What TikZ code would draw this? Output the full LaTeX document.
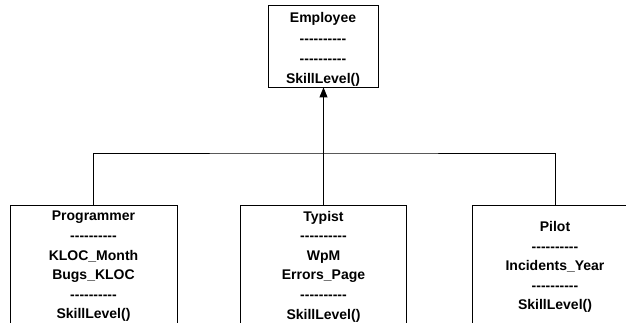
\documentclass[tikz,border=0pt]{standalone}
\usepackage{fontspec}
\newfontfamily\umlfont{Liberation Sans}
\usetikzlibrary{arrows.meta}
% a row of ten hyphens, kept apart so they never merge into dashes
\newcommand\sepline{-\kern0pt-\kern0pt-\kern0pt-\kern0pt-\kern0pt-\kern0pt-\kern0pt-\kern0pt-\kern0pt-}
\tikzset{
  classbox/.style={draw, line width=0.9pt, rectangle, inner sep=0pt},
  classtext/.style={align=center, inner sep=0pt,
    font=\umlfont\bfseries\fontsize{14}{19.6}\selectfont},
  link/.style={line width=0.9pt},
}
\begin{document}
\begin{tikzpicture}[x=1pt,y=-1pt]
  \useasboundingbox (0,0) rectangle (626,323);
  \clip (0,0) rectangle (626,323);
  % class boxes
  \node[classbox, minimum width=110pt, minimum height=82pt] (emp) at (323,46) {};
  \node[classbox, minimum width=167pt, minimum height=119pt] (prog) at (93.5,264.5) {};
  \node[classbox, minimum width=166pt, minimum height=119pt] (typ) at (323.5,264.5) {};
  \node[classbox, minimum width=166pt, minimum height=119pt] (pil) at (555,264.5) {};
  % class contents
  \node[classtext, font=\umlfont\bfseries\fontsize{14}{20.2}\selectfont] (empt) at (323,49.5)
    {Employee\\ \sepline\\ \sepline\\ SkillLevel()};
  \node[classtext] (progt) at (93.5,266.5)
    {Programmer\\ \sepline\\ KLOC\_Month\\ Bugs\_KLOC\\ \sepline\\ SkillLevel()};
  \node[classtext] (typt) at (323.5,266.5)
    {Typist\\ \sepline\\ WpM\\ Errors\_Page\\ \sepline\\ SkillLevel()};
  \node[classtext] (pilt) at (555,267)
    {Pilot\\ \sepline\\ Incidents\_Year\\ \sepline\\ SkillLevel()};
  % generalisation
  \coordinate (j) at (323.5,153);
  \draw[link] (prog.north) |- (j) -| (pil.north);
  \draw[link] (typ.north) -- (j);
  \draw[link, -{Triangle[length=10pt,width=8pt]}] (j) -- (j |- emp.south);
\end{tikzpicture}
\end{document}
